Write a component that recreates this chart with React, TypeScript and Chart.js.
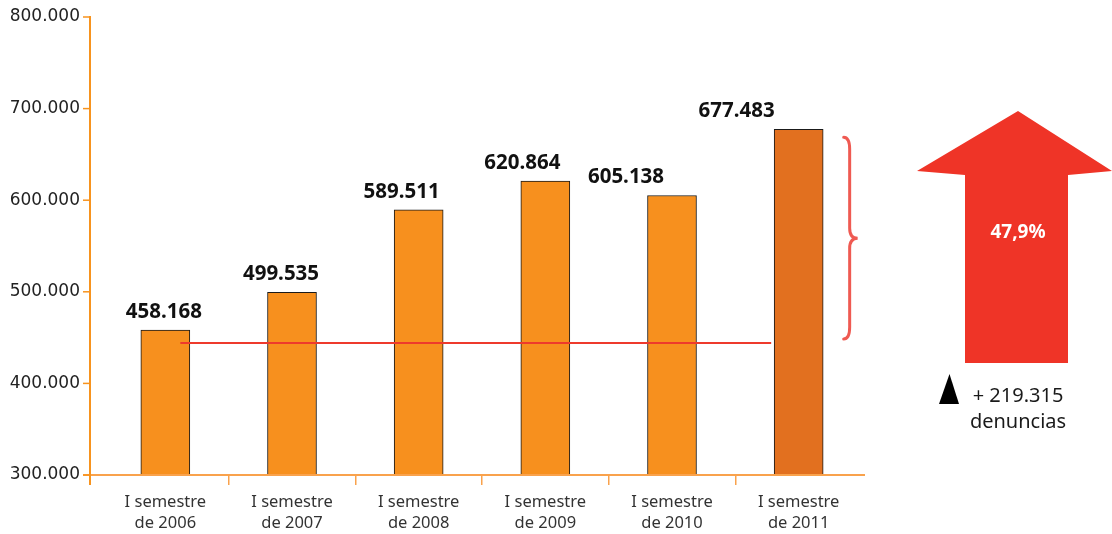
import React, { useEffect, useRef } from 'react';
import { Chart, registerables } from 'chart.js';

Chart.register(...registerables);

// ---- data ----
const CATEGORIES: string[][] = [
  ['I semestre', 'de 2006'],
  ['I semestre', 'de 2007'],
  ['I semestre', 'de 2008'],
  ['I semestre', 'de 2009'],
  ['I semestre', 'de 2010'],
  ['I semestre', 'de 2011'],
];
const VALUES: number[] = [458168, 499535, 589511, 620864, 605138, 677483];
const Y_MIN = 300000;
const Y_MAX = 800000;
const Y_STEP = 100000;
const REFERENCE_LINE = 444000;
const UNIT_LABEL = 'denuncias';

// ---- style ----
const BAR_COLORS = ['#F7901E', '#F7901E', '#F7901E', '#F7901E', '#F7901E', '#E2701F'];
const LABEL_DX = [-1.5, -11, -17, -23, -46, -62];
const AXIS_ORANGE = '#F7931E';
const AXIS_LIGHT = '#F9A24C';

const fmt = (n: number) =>
  Math.round(n).toString().replace(/\B(?=(\d{3})+(?!\d))/g, '.');

const overlay = {
  id: 'overlay',
  afterDatasetsDraw(chart: any) {
    const { ctx, chartArea, scales } = chart;
    const y = scales.y;
    const meta = chart.getDatasetMeta(0);
    const bars = meta.data;
    ctx.save();

    // axes
    const axisX = chartArea.left - 12;
    ctx.strokeStyle = AXIS_LIGHT;
    ctx.lineWidth = 2;
    ctx.beginPath();
    ctx.moveTo(axisX - 7, chartArea.bottom);
    ctx.lineTo(chartArea.right + 3, chartArea.bottom);
    ctx.stroke();

    ctx.strokeStyle = AXIS_ORANGE;
    ctx.lineWidth = 2;
    ctx.beginPath();
    ctx.moveTo(axisX, chartArea.top - 1);
    ctx.lineTo(axisX, chartArea.bottom + 10);
    ctx.stroke();
    ctx.lineWidth = 1.5;
    for (const t of y.ticks) {
      const py = y.getPixelForValue(t.value);
      ctx.beginPath();
      ctx.moveTo(axisX - 7, py);
      ctx.lineTo(axisX, py);
      ctx.stroke();
    }

    // reference line
    const yl = y.getPixelForValue(REFERENCE_LINE);
    const b0 = bars[0];
    const bN = bars[bars.length - 1];
    ctx.strokeStyle = '#EE3A2C';
    ctx.lineWidth = 2;
    ctx.beginPath();
    ctx.moveTo(b0.x + 15, yl);
    ctx.lineTo(bN.x - 27.5, yl);
    ctx.stroke();

    // value labels
    ctx.fillStyle = '#111';
    ctx.font = 'bold 20.5px "Noto Sans"';
    ctx.textAlign = 'center';
    ctx.textBaseline = 'alphabetic';
    bars.forEach((bar: any, i: number) => {
      ctx.fillText(fmt(VALUES[i]), bar.x + LABEL_DX[i], bar.y - 12);
    });

    // brace
    const top = y.getPixelForValue(VALUES[VALUES.length - 1]) + 8;
    const bottom = yl - 4;
    const mid = (top + bottom) / 2;
    const bx = bN.x + 51;
    ctx.strokeStyle = '#EF5A52';
    ctx.lineWidth = 3;
    ctx.lineCap = 'round';
    ctx.beginPath();
    ctx.moveTo(bx - 6, top);
    ctx.quadraticCurveTo(bx, top, bx, top + 12);
    ctx.lineTo(bx, mid - 10);
    ctx.quadraticCurveTo(bx, mid, bx + 8, mid);
    ctx.quadraticCurveTo(bx, mid, bx, mid + 10);
    ctx.lineTo(bx, bottom - 12);
    ctx.quadraticCurveTo(bx, bottom, bx - 6, bottom);
    ctx.stroke();

    // arrow
    const ax = chartArea.right;
    ctx.fillStyle = '#EF3427';
    ctx.beginPath();
    ctx.moveTo(ax + 55, 171);
    ctx.lineTo(ax + 156, 111);
    ctx.lineTo(ax + 250, 171);
    ctx.lineTo(ax + 206, 175);
    ctx.lineTo(ax + 206, 363);
    ctx.lineTo(ax + 103, 363);
    ctx.lineTo(ax + 103, 175);
    ctx.closePath();
    ctx.fill();

    const first = VALUES[0];
    const last = VALUES[VALUES.length - 1];
    const pct = (((last - first) / first) * 100).toFixed(1).replace('.', ',') + '%';
    ctx.fillStyle = '#fff';
    ctx.font = 'bold 19px "Noto Sans"';
    ctx.textAlign = 'center';
    ctx.textBaseline = 'middle';
    ctx.fillText(pct, ax + 156, 233);

    // triangle + difference
    ctx.fillStyle = '#000';
    ctx.beginPath();
    ctx.moveTo(ax + 87.5, 374);
    ctx.lineTo(ax + 97, 404);
    ctx.lineTo(ax + 77, 404);
    ctx.closePath();
    ctx.fill();

    ctx.fillStyle = '#1a1a1a';
    ctx.font = '20px "Noto Sans"';
    ctx.textAlign = 'center';
    ctx.textBaseline = 'middle';
    ctx.fillText('+ ' + fmt(last - first), ax + 156, 396);
    ctx.fillText(UNIT_LABEL, ax + 156, 422);

    ctx.restore();
  },
};

export default function App() {
  const ref = useRef<HTMLCanvasElement | null>(null);

  useEffect(() => {
    if (!ref.current) return;
    const chart = new Chart(ref.current, {
      type: 'bar',
      data: {
        labels: CATEGORIES,
        datasets: [
          {
            data: VALUES,
            backgroundColor: BAR_COLORS,
            borderColor: '#1a1a1a',
            borderWidth: 1,
            barThickness: 49,
          },
        ],
      },
      options: {
        animation: false,
        responsive: true,
        maintainAspectRatio: false,
        layout: { padding: { top: 17, right: 250, bottom: 0, left: 0 } },
        plugins: {
          legend: { display: false },
          tooltip: { enabled: false },
        },
        scales: {
          x: {
            offset: true,
            border: { display: false },
            grid: {
              display: true,
              offset: true,
              drawOnChartArea: false,
              drawTicks: true,
              tickLength: 10,
              lineWidth: 1.5,
              color: (c: any) =>
                c.type === 'tick' && c.index > 0 && c.index < CATEGORIES.length
                  ? AXIS_LIGHT
                  : 'rgba(0,0,0,0)',
            },
            ticks: {
              padding: 6.5,
              color: '#333',
              maxRotation: 0,
              autoSkip: false,
              font: { family: '"Noto Sans"', size: 16.5, lineHeight: '21px' } as any,
            },
            afterFit: (scale: any) => {
              scale.height = 59;
              scale.paddingLeft = 0;
              scale.paddingRight = 0;
            },
          },
          y: {
            min: Y_MIN,
            max: Y_MAX,
            border: { display: false },
            grid: { display: false, drawTicks: false },
            ticks: {
              stepSize: Y_STEP,
              padding: 22,
              color: '#222',
              font: { family: '"DejaVu Sans"', size: 17 },
              callback: (v: any) => fmt(Number(v)),
            },
            afterFit: (scale: any) => {
              scale.width = 102;
              scale.paddingTop = 0;
              scale.paddingBottom = 0;
            },
          },
        },
      },
      plugins: [overlay],
    });
    return () => chart.destroy();
  }, []);

  return (
    <div style={{ position: 'absolute', left: 0, top: 0, width: 1112, height: 534, background: '#fff' }}>
      <canvas ref={ref} />
    </div>
  );
}
